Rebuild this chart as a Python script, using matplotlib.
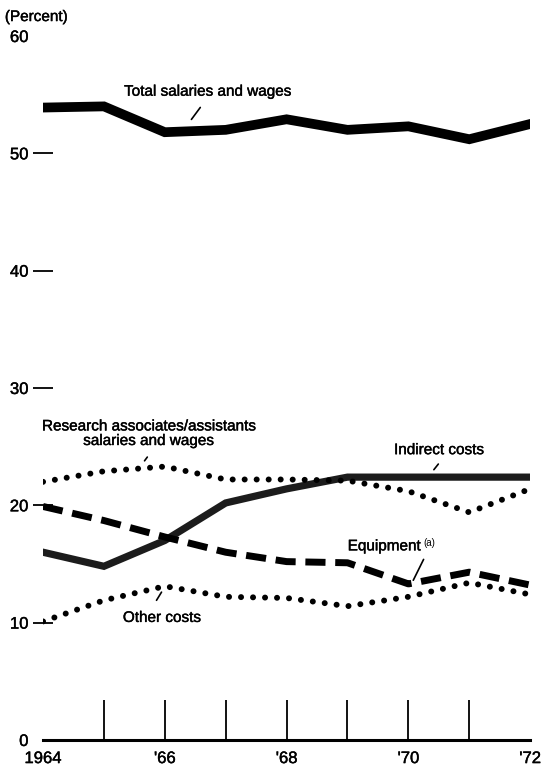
import numpy as np
import matplotlib.pyplot as plt
import matplotlib.patheffects as pe

plt.rcParams['font.family'] = ['Liberation Sans', 'DejaVu Sans']

years = [1964, 1965, 1966, 1967, 1968, 1969, 1970, 1971, 1972]
total_salaries = [53.9, 54.0, 51.8, 52.0, 52.9, 52.0, 52.3, 51.2, 52.5]
research_assoc = [22.0, 22.9, 23.3, 22.2, 22.2, 22.1, 21.2, 19.4, 21.4]
indirect_costs = [16.0, 14.8, 17.0, 20.2, 21.4, 22.4, 22.4, 22.4, 22.4]
equipment = [19.9, 18.7, 17.3, 16.0, 15.2, 15.1, 13.3, 14.3, 13.2]
other_costs = [10.1, 11.9, 13.1, 12.2, 12.1, 11.4, 12.2, 13.4, 12.4]

xlabels = ['1964', "'66", "'68", "'70", "'72"]
ylabels = ['0', '10', '20', '30', '40', '50', '60']

# slightly heavier text, like the printed original
heavy = [pe.withStroke(linewidth=0.3, foreground='black')]

fig = plt.figure(figsize=(5.41, 7.74), dpi=100)
ax = fig.add_axes([0.0795, 0.044, 0.9005, 0.9095])

ax.plot(years, total_salaries, color='black', lw=7, solid_joinstyle='miter')
ax.plot(years, indirect_costs, color='#1c1c1c', lw=5.2, solid_joinstyle='miter')
ax.plot(years, equipment, color='black', lw=5, linestyle=(0, (2.9, 1.4)),
        dash_capstyle='butt')
ax.plot(years, research_assoc, color='black', lw=4.3, linestyle=(0, (0.01, 2.0)),
        dash_capstyle='round')
ax.plot(years, other_costs, color='black', lw=4.3, linestyle=(0, (0.01, 2.0)),
        dash_capstyle='round')

ax.set_xlim(1964, 1972)
ax.set_ylim(0, 60)

for s in ['top', 'right', 'left']:
    ax.spines[s].set_visible(False)
ax.spines['bottom'].set_linewidth(2.2)

ax.xaxis.remove_overlapping_locs = False
ax.set_xticks(years[::2])
ax.set_xticklabels(xlabels)
ax.set_xticks(years[1:-1], minor=True)
ax.tick_params(axis='x', which='major', length=0, pad=8, labelsize=12)
ax.tick_params(axis='x', which='minor', direction='in', length=29, width=1.3)

ax.set_yticks([0, 10, 20, 30, 40, 50, 60])
ax.set_yticklabels(ylabels)
ax.tick_params(axis='y', direction='inout', length=15, width=1.3, pad=3, labelsize=12)
yt = ax.yaxis.get_major_ticks()
yt[0].tick1line.set_visible(False)
yt[-1].tick1line.set_visible(False)

for lab in ax.get_xticklabels() + ax.get_yticklabels():
    lab.set_path_effects(heavy)

fig.text(0.009, 0.978, '(Percent)', fontsize=11, ha='left', va='center',
         path_effects=heavy)

tkw = dict(fontsize=11, ha='center', va='center', path_effects=heavy)
ax.text(1966.7, 55.25, 'Total salaries and wages', **tkw)
ax.annotate('', xy=(1966.41, 52.7), xytext=(1966.61, 54.1),
            arrowprops=dict(arrowstyle='-', lw=1.2))

ax.text(1965.73, 26.1, 'Research associates/assistants\nsalaries and wages',
        linespacing=1.05, **tkw)
ax.annotate('', xy=(1965.64, 23.6), xytext=(1965.74, 24.3),
            arrowprops=dict(arrowstyle='-', lw=1.2))

ax.text(1970.5, 24.7, 'Indirect costs', **tkw)
ax.annotate('', xy=(1970.39, 22.85), xytext=(1970.52, 23.7),
            arrowprops=dict(arrowstyle='-', lw=1.2))

ax.text(1970.2, 16.5, 'Equipment', fontsize=11, ha='right', va='center',
        path_effects=heavy)
ax.text(1970.24, 16.8, '(a)', fontsize=7, ha='left', va='center')
ax.annotate('', xy=(1970.06, 13.4), xytext=(1970.27, 15.6),
            arrowprops=dict(arrowstyle='-', lw=1.2))

ax.text(1965.95, 10.4, 'Other costs', **tkw)
ax.annotate('', xy=(1965.97, 12.8), xytext=(1965.84, 11.7),
            arrowprops=dict(arrowstyle='-', lw=1.2))

fig.savefig('out.png', dpi=100)
